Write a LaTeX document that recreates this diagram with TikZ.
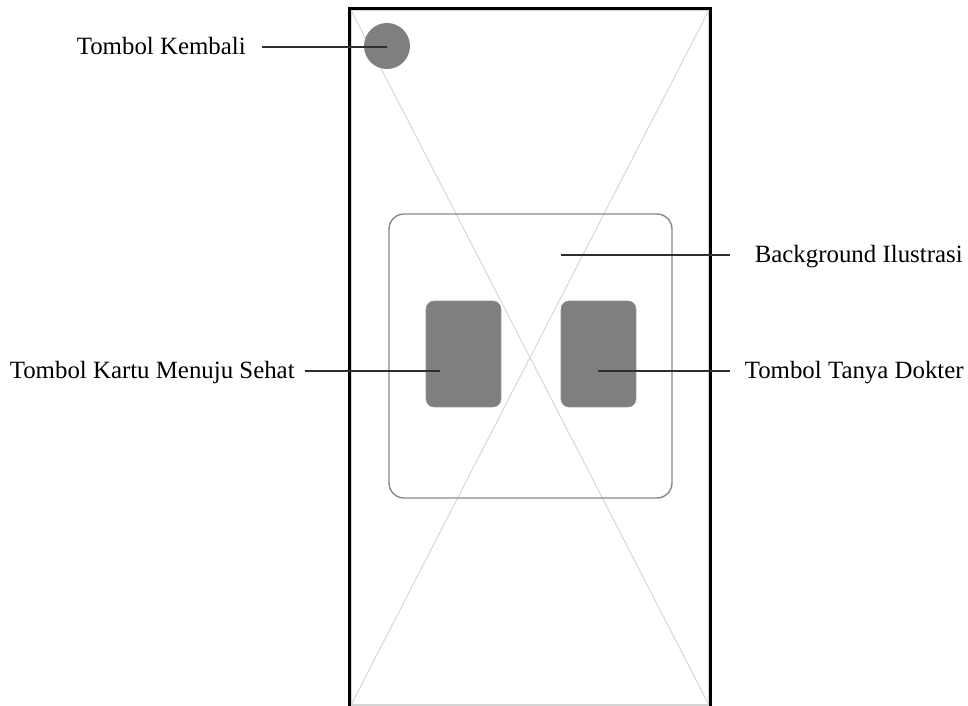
\documentclass[tikz,border=0pt]{standalone}
\usepackage{fontspec}
\setmainfont{Liberation Serif}
\usepackage{tikz}
\usetikzlibrary{positioning,calc}
\definecolor{btngray}{HTML}{7F7F7F}
\definecolor{panelgray}{HTML}{8A8A8A}
\definecolor{crossgray}{HTML}{D4D4D4}
\definecolor{leader}{HTML}{2E2E2E}
\tikzstyle{tombol} = [rectangle, rounded corners=0.16cm, minimum width=1.5cm, minimum height=2.12cm, fill=btngray, draw=btngray!85, line width=0.3pt, inner sep=0pt]
\tikzstyle{panel} = [rectangle, rounded corners=0.3cm, minimum width=5.66cm, minimum height=5.68cm, draw=panelgray, line width=0.8pt, inner sep=0pt]
\tikzstyle{keterangan} = [font=\fontsize{14.15}{16}\selectfont, inner sep=0pt]
\tikzstyle{garis} = [draw=leader, line width=0.85pt]

\begin{document}
\begin{tikzpicture}[x=0.02cm, y=-0.02cm]
        \useasboundingbox (0,0) rectangle (968,706);
        \fill[white] (0,0) rectangle (968,706);
        % kotak placeholder dengan silang
        \draw[crossgray, line width=0.6pt] (351,10) rectangle (709,705);
        \draw[crossgray, line width=0.5pt] (351,10) -- (709,705);
        \draw[crossgray, line width=0.5pt] (709,10) -- (351,705);
        % bingkai layar
        \draw[black, line width=1.4pt] (349.5,706) -- (349.5,8.5) -- (710.5,8.5) -- (710.5,706);
        \node[panel] (bgIlustrasi) at (530.5,356) {};
        \node[tombol] (btnKartu) at (463.5,354) {};
        \node[tombol] (btnTanya) at (598.5,354) {};
        \node[circle, fill=btngray, minimum size=0.92cm, inner sep=0pt] (btnKembali) at (387,46) {};
        \coordinate (ujungKembali) at (387,47);
        \coordinate (ujungKartu) at (440,371);
        \coordinate (ujungTanya) at (598,371);
        \coordinate (ujungBg) at (561,255);
        \node[keterangan, anchor=base east] (lblKembali) at (246,54.5) {Tombol Kembali};
        \node[keterangan, anchor=base east] (lblKartu) at (295,378.5) {Tombol Kartu Menuju Sehat};
        \node[keterangan, anchor=base east] (lblTanya) at (964,378.5) {Tombol Tanya Dokter};
        \node[keterangan, anchor=base east] (lblBg) at (963,262.5) {Background Ilustrasi};
        \draw[garis] ([xshift=0.32cm]lblKembali.east |- ujungKembali) -- (ujungKembali);
        \draw[garis] ([xshift=0.2cm]lblKartu.east |- ujungKartu) -- (ujungKartu);
        \draw[garis] (ujungTanya) -- ([xshift=-0.28cm]lblTanya.west |- ujungTanya);
        \draw[garis] (ujungBg) -- ([xshift=-0.48cm]lblBg.west |- ujungBg);
    \end{tikzpicture}
\end{document}
